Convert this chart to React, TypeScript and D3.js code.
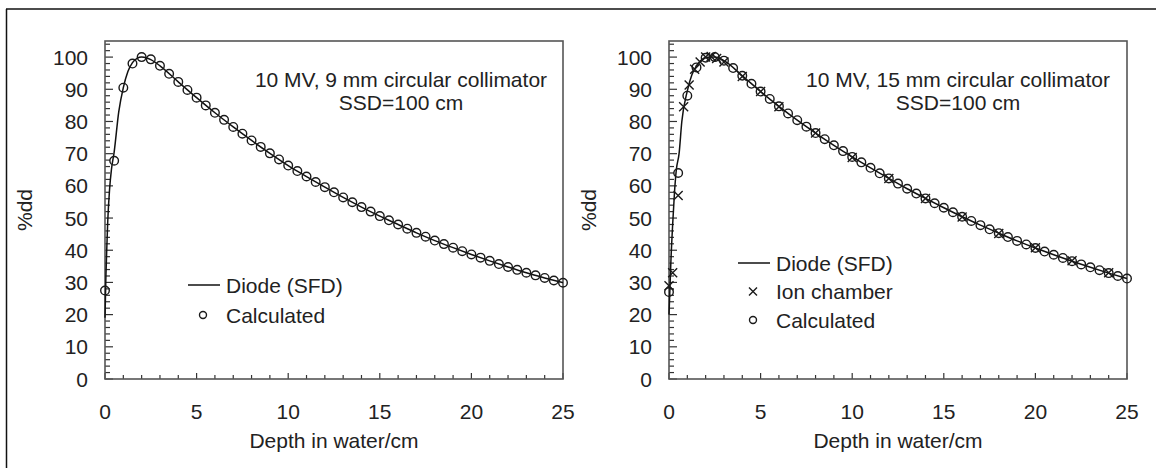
import React from "react";
import * as d3 from "d3";

// ---------- data ----------
const xTicks = [0, 5, 10, 15, 20, 25];
const yTicks = [0, 10, 20, 30, 40, 50, 60, 70, 80, 90, 100];

// left panel: 10 MV, 9 mm
const leftCalcDepth = [0, 0.5, 1, 1.5, 2, 2.5, 3, 3.5, 4, 4.5, 5, 5.5, 6, 6.5, 7, 7.5, 8, 8.5, 9, 9.5, 10, 10.5, 11, 11.5, 12, 12.5, 13, 13.5, 14, 14.5, 15, 15.5, 16, 16.5, 17, 17.5, 18, 18.5, 19, 19.5, 20, 20.5, 21, 21.5, 22, 22.5, 23, 23.5, 24, 24.5, 25];
const leftCalcValue = [27.5, 67.8, 90.5, 98.0, 100.0, 99.3, 97.3, 94.8, 92.3, 89.8, 87.4, 85.0, 82.7, 80.5, 78.3, 76.2, 74.1, 72.1, 70.1, 68.2, 66.3, 64.6, 62.9, 61.2, 59.6, 58.0, 56.4, 54.9, 53.4, 52.0, 50.6, 49.3, 48.0, 46.7, 45.4, 44.2, 43.0, 41.9, 40.8, 39.7, 38.7, 37.7, 36.7, 35.7, 34.8, 33.9, 33.0, 32.2, 31.4, 30.6, 29.9];
const leftDiodeDepth = [0, 0.05, 0.1, 0.15, 0.25, 0.35, 0.5, 0.75, 1, 1.25, 1.5, 1.75, 2, 2.25, 2.5, 3, 4, 5, 6, 7, 8, 9, 10, 11, 12, 13, 14, 15, 16, 17, 18, 19, 20, 21, 22, 23, 24, 25];
const leftDiodeValue = [19, 32, 41, 49, 59, 65, 70.5, 83, 90.5, 95.5, 98.3, 99.6, 100, 99.8, 99.2, 97.3, 92.3, 87.4, 82.7, 78.3, 74.1, 70.1, 66.3, 62.9, 59.6, 56.4, 53.4, 50.6, 48.0, 45.4, 43.0, 40.8, 38.7, 36.7, 34.8, 33.0, 31.4, 29.9];

// right panel: 10 MV, 15 mm
const rightCalcDepth = leftCalcDepth;
const rightCalcValue = [27.0, 64.0, 88.0, 96.8, 99.8, 100.0, 98.9, 96.6, 94.2, 91.7, 89.3, 87.0, 84.7, 82.5, 80.4, 78.4, 76.4, 74.5, 72.6, 70.8, 69.0, 67.3, 65.6, 63.9, 62.3, 60.7, 59.1, 57.6, 56.1, 54.6, 53.2, 51.8, 50.4, 49.1, 47.8, 46.5, 45.3, 44.1, 42.9, 41.8, 40.7, 39.6, 38.6, 37.6, 36.6, 35.6, 34.7, 33.8, 32.9, 32.0, 31.2];
const rightDiodeDepth = [0, 0.05, 0.1, 0.2, 0.3, 0.4, 0.55, 0.7, 1, 1.25, 1.5, 1.75, 2, 2.25, 2.5, 3, 4, 5, 6, 7, 8, 9, 10, 11, 12, 13, 14, 15, 16, 17, 18, 19, 20, 21, 22, 23, 24, 25];
const rightDiodeValue = [20, 28, 36, 48, 58, 65, 70, 80, 89.5, 94.5, 97.3, 99.0, 99.8, 100, 100, 98.9, 94.2, 89.3, 84.7, 80.4, 76.4, 72.6, 69.0, 65.6, 62.3, 59.1, 56.1, 53.2, 50.4, 47.8, 45.3, 42.9, 40.7, 38.6, 36.6, 34.7, 32.9, 31.2];
const ionDepth = [0, 0.2, 0.5, 0.8, 1.1, 1.4, 1.7, 2.0, 2.3, 2.6, 3, 4, 5, 6, 8, 10, 12, 14, 16, 18, 20, 22, 24];
const ionValue = [29, 33, 57, 84.6, 91.3, 96.2, 98.5, 100, 100.2, 99.6, 98.5, 94.0, 89.3, 84.6, 76.4, 68.8, 62.3, 56.1, 50.3, 45.2, 40.8, 36.7, 33.0];

const leftTitle = ["10 MV, 9 mm circular collimator", "SSD=100 cm"];
const rightTitle = ["10 MV, 15 mm circular collimator", "SSD=100 cm"];
const xLabel = "Depth in water/cm";
const yLabel = "%dd";

// ---------- layout ----------
const W = 1156;
const H = 468;
const PW = 458;
const TOP = 41;
const BOT = 379;
const FONT = "'Liberation Sans', Arial, Helvetica, sans-serif";
const FS = 21;
const TXT = "#222";

type P = { d: number; v: number };
const zip = (d: number[], v: number[]): P[] => d.map((x, i) => ({ d: x, v: v[i] }));

function Circle({ cx, cy, r = 4.3 }: { cx: number; cy: number; r?: number }) {
  return <circle cx={cx} cy={cy} r={r} fill="none" stroke="#1a1a1a" strokeWidth={1.4} />;
}
function Cross({ cx, cy, s = 4.5 }: { cx: number; cy: number; s?: number }) {
  return (
    <path
      d={`M${cx - s},${cy - s}L${cx + s},${cy + s}M${cx - s},${cy + s}L${cx + s},${cy - s}`}
      stroke="#1a1a1a"
      strokeWidth={1.4}
      fill="none"
    />
  );
}

function Panel({
  x0,
  calc,
  diode,
  ion,
  title,
  titleCenter,
  legendX,
  legendY,
  legendStep,
}: {
  x0: number;
  calc: P[];
  diode: P[];
  ion?: P[];
  title: string[];
  titleCenter: number;
  legendX: number;
  legendY: number;
  legendStep: number;
}) {
  const x = d3.scaleLinear().domain([0, 25]).range([x0, x0 + PW]);
  const y = d3.scaleLinear().domain([0, 105]).range([BOT, TOP]);
  const line = d3
    .line<P>()
    .x((p) => x(p.d))
    .y((p) => y(p.v))
    .curve(d3.curveMonotoneX);
  const xMinor = d3.range(0, 26, 1);
  const yMinor = d3.range(0, 105, 2);
  const legendRows: { kind: string; label: string }[] = ion
    ? [
        { kind: "line", label: "Diode (SFD)" },
        { kind: "cross", label: "Ion chamber" },
        { kind: "circle", label: "Calculated" },
      ]
    : [
        { kind: "line", label: "Diode (SFD)" },
        { kind: "circle", label: "Calculated" },
      ];
  return (
    <g>
      {xMinor.map((t) => (
        <line
          key={"xt" + t}
          x1={x(t)}
          x2={x(t)}
          y1={BOT}
          y2={BOT - (t % 5 === 0 ? 6 : 4)}
          stroke="#333"
          strokeWidth={1.2}
        />
      ))}
      {yMinor.map((t) => (
        <line
          key={"yt" + t}
          x1={x0}
          x2={x0 + (t % 10 === 0 ? 8 : 5)}
          y1={y(t)}
          y2={y(t)}
          stroke="#333"
          strokeWidth={1.2}
        />
      ))}
      <rect x={x0} y={TOP} width={PW} height={BOT - TOP} fill="none" stroke="#555" strokeWidth={1.6} />
      {xTicks.map((t) => (
        <text key={"xl" + t} x={x(t)} y={419} textAnchor="middle" fontSize={FS} fontFamily={FONT} fill={TXT}>
          {t}
        </text>
      ))}
      {yTicks.map((t) => (
        <text
          key={"yl" + t}
          x={x0 - 17}
          y={y(t) + 7.5}
          textAnchor="end"
          fontSize={FS}
          fontFamily={FONT}
          fill={TXT}
        >
          {t}
        </text>
      ))}
      <text x={x0 + PW / 2} y={448} textAnchor="middle" fontSize={FS} fontFamily={FONT} fill={TXT}>
        {xLabel}
      </text>
      <text
        transform={`translate(${x0 - 73},${(TOP + BOT) / 2}) rotate(-90)`}
        textAnchor="middle"
        fontSize={FS}
        fontFamily={FONT}
        fill={TXT}
      >
        {yLabel}
      </text>
      {title.map((s, i) => (
        <text
          key={"tt" + i}
          x={titleCenter}
          y={87 + i * 23}
          textAnchor="middle"
          fontSize={FS}
          fontFamily={FONT}
          fill={TXT}
        >
          {s}
        </text>
      ))}
      <path d={line(diode) || ""} fill="none" stroke="#111" strokeWidth={1.5} />
      {calc.map((p, i) => (
        <Circle key={"c" + i} cx={x(p.d)} cy={y(p.v)} />
      ))}
      {ion && ion.map((p, i) => <Cross key={"x" + i} cx={x(p.d)} cy={y(p.v)} />)}
      {legendRows.map((r, i) => {
        const ly = legendY + i * legendStep;
        return (
          <g key={"lg" + i}>
            {r.kind === "line" && (
              <line x1={legendX} x2={legendX + 32} y1={ly} y2={ly} stroke="#111" strokeWidth={1.5} />
            )}
            {r.kind === "circle" && <Circle cx={legendX + 15} cy={ly} r={3.5} />}
            {r.kind === "cross" && <Cross cx={legendX + 15} cy={ly} s={4} />}
            <text x={legendX + 38} y={ly + 7.5} fontSize={FS} fontFamily={FONT} fill={TXT}>
              {r.label}
            </text>
          </g>
        );
      })}
    </g>
  );
}

export default function App() {
  return (
    <svg width={W} height={H} style={{ position: "absolute", left: 0, top: 0, background: "#fff" }}>
      <rect x={0} y={0} width={W} height={H} fill="#fff" />
      <line x1={6} x2={W} y1={9} y2={9} stroke="#111" strokeWidth={1.5} />
      <line x1={6.5} x2={6.5} y1={9} y2={H} stroke="#111" strokeWidth={1.5} />
      <Panel
        x0={105}
        calc={zip(leftCalcDepth, leftCalcValue)}
        diode={zip(leftDiodeDepth, leftDiodeValue)}
        title={leftTitle}
        titleCenter={401}
        legendX={188}
        legendY={285}
        legendStep={30}
      />
      <Panel
        x0={669}
        calc={zip(rightCalcDepth, rightCalcValue)}
        diode={zip(rightDiodeDepth, rightDiodeValue)}
        ion={zip(ionDepth, ionValue)}
        title={rightTitle}
        titleCenter={958}
        legendX={738}
        legendY={263}
        legendStep={28.5}
      />
    </svg>
  );
}
